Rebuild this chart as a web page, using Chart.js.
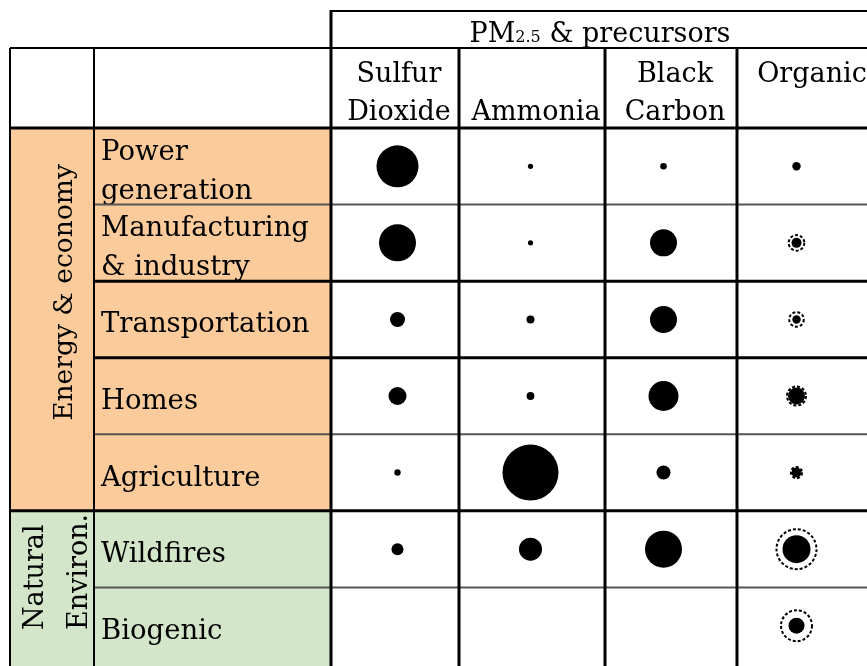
<!DOCTYPE html>
<html>
<head>
<meta charset="utf-8">
<script src="https://cdn.jsdelivr.net/npm/chart.js@4.4.1/dist/chart.umd.min.js"></script>
<style>
  body { margin: 0; background: #fff; }
  #wrap { width: 867px; height: 666px; }
</style>
</head>
<body>
<div id="wrap"><canvas id="source-chart" width="867" height="666"></canvas></div>
<script>
// columns (pollutants) and rows (emission sources)
const pollutants = ['Sulfur Dioxide', 'Ammonia', 'Black Carbon', 'Organic'];
const pollutantLines = [['Sulfur', 'Dioxide'], ['', 'Ammonia'], ['Black', 'Carbon'], ['Organic', '']];
const sources = ['Power generation', 'Manufacturing & industry', 'Transportation', 'Homes', 'Agriculture', 'Wildfires', 'Biogenic'];
const sourceLines = [['Power', 'generation'], ['Manufacturing', '& industry'], ['Transportation'], ['Homes'], ['Agriculture'], ['Wildfires'], ['Biogenic']];
const groupEnergy = ['Energy & economy'];
const groupNatural = ['Natural', 'Environ.'];

// bubble radius per source (null = empty cell)
const sulfurDioxide = [21, 18.5, 7.5, 9, 3.2, 6, null];
const ammonia = [2.6, 2.6, 4, 3.9, 28, 11.5, null];
const blackCarbon = [3.3, 13.5, 13.5, 15, 7, 18.5, null];
const organicCentral = [4.2, 5, 4.2, 8.5, 5, 14, 8];
const organicRange = [null, 7.8, 7.3, 9.5, 5.6, 20, 15.5];

// table layout
const colEdges = [331, 459, 605, 737, 879];
const leftEdge = 10, groupEdge = 94;
const topLine = 11, headLine = 48;
const orange = '#fbcb9c', green = '#d3e6c9';
const serif = '"DejaVu Serif", serif';

function toPoints(values, pollutant) {
    return sources
        .map((s, i) => values[i] == null ? null : { x: pollutant, y: s, r: values[i] })
        .filter(p => p);
}

function rowEdges(y) {
    const edges = [y.top];
    for (let i = 0; i < sources.length - 1; i++) {
        edges.push((y.getPixelForTick(i) + y.getPixelForTick(i + 1)) / 2);
    }
    edges.push(y.bottom);
    return edges;
}

function hLine(ctx, x1, x2, yy, w, color) {
    ctx.beginPath();
    ctx.strokeStyle = color;
    ctx.lineWidth = w;
    ctx.moveTo(x1, yy);
    ctx.lineTo(x2, yy);
    ctx.stroke();
}

function vLine(ctx, xx, y1, y2, w, color) {
    ctx.beginPath();
    ctx.strokeStyle = color;
    ctx.lineWidth = w;
    ctx.moveTo(xx, y1);
    ctx.lineTo(xx, y2);
    ctx.stroke();
}

const tablePlugin = {
    id: 'tableFrame',
    beforeDatasetsDraw(chart) {
        const ctx = chart.ctx;
        const y = chart.scales.y;
        const W = chart.width, H = chart.height;
        const rows = rowEdges(y);
        const splitRow = rows[5];

        ctx.save();
        // group backgrounds
        ctx.fillStyle = orange;
        ctx.fillRect(leftEdge, rows[0], colEdges[0] - leftEdge, splitRow - rows[0]);
        ctx.fillStyle = green;
        ctx.fillRect(leftEdge, splitRow, colEdges[0] - leftEdge, H - splitRow);

        // header text
        ctx.fillStyle = '#000';
        ctx.textBaseline = 'alphabetic';
        ctx.font = '27px ' + serif;
        const big1 = 'PM', small = '2.5', big2 = ' & precursors';
        const w1 = ctx.measureText(big1).width, w3 = ctx.measureText(big2).width;
        ctx.font = '16px ' + serif;
        const w2 = ctx.measureText(small).width;
        let hx = 600 - (w1 + w2 + w3) / 2;
        ctx.textAlign = 'left';
        ctx.font = '27px ' + serif;
        ctx.fillText(big1, hx, 42);
        ctx.font = '16px ' + serif;
        ctx.fillText(small, hx + w1, 42);
        ctx.font = '27px ' + serif;
        ctx.fillText(big2, hx + w1 + w2, 42);

        ctx.textAlign = 'center';
        pollutantLines.forEach((lines, i) => {
            const cx = (colEdges[i] + colEdges[i + 1]) / 2 + 4;
            ctx.fillText(lines[0], cx, 82);
            ctx.fillText(lines[1], cx, 120);
        });

        // row labels
        ctx.textAlign = 'left';
        ctx.font = '27.5px ' + serif;
        sourceLines.forEach((lines, i) => {
            const cy = y.getPixelForTick(i) + 13;
            if (lines.length === 1) {
                ctx.fillText(lines[0], 101, cy);
            } else {
                ctx.fillText(lines[0], 101, cy - 19.5);
                ctx.fillText(lines[1], 101, cy + 19.5);
            }
        });

        // vertical group labels
        ctx.save();
        ctx.font = '26.5px ' + serif;
        ctx.translate(72, (rows[0] + splitRow) / 2 - 27);
        ctx.rotate(-Math.PI / 2);
        ctx.textAlign = 'center';
        ctx.fillText(groupEnergy[0], 0, 0);
        ctx.restore();

        ctx.font = '27px ' + serif;
        [43, 87].forEach((bx, k) => {
            ctx.save();
            ctx.translate(bx, 630);
            ctx.rotate(-Math.PI / 2);
            ctx.textAlign = 'left';
            ctx.fillText(groupNatural[k], 0, 0);
            ctx.restore();
        });

        // grid lines
        const thick = 3, thin = 2, dark = '#000', grey = '#555';
        hLine(ctx, colEdges[0], W, topLine, 2, dark);
        hLine(ctx, leftEdge, W, headLine, 2, dark);
        hLine(ctx, leftEdge, W, rows[0], thick, dark);
        for (let i = 1; i < rows.length - 1; i++) {
            const isThin = (i === 1 || i === 4 || i === 6);
            const x1 = i === 5 ? leftEdge : groupEdge;
            hLine(ctx, x1, W, rows[i], isThin ? thin : thick, isThin ? grey : dark);
        }
        vLine(ctx, leftEdge, headLine, H, 2, dark);
        vLine(ctx, groupEdge, headLine, H, 2, dark);
        vLine(ctx, colEdges[0], topLine - 1, H, thick, dark);
        for (let i = 1; i < colEdges.length - 1; i++) {
            vLine(ctx, colEdges[i], headLine, H, thick, dark);
        }
        ctx.restore();
    },
    beforeDatasetDraw(chart, args) {
        if (chart.data.datasets[args.index].dashed) {
            chart.ctx.save();
            chart.ctx.setLineDash([3, 2]);
        }
    },
    afterDatasetDraw(chart, args) {
        if (chart.data.datasets[args.index].dashed) {
            chart.ctx.restore();
        }
    }
};

const filled = { backgroundColor: '#000', borderWidth: 0 };

new Chart(document.getElementById('source-chart'), {
    type: 'bubble',
    data: {
        datasets: [
            { label: 'Organic range', data: toPoints(organicRange, pollutants[3]), backgroundColor: 'rgba(0,0,0,0)', borderColor: '#000', borderWidth: 2, dashed: true },
            { label: pollutants[0], data: toPoints(sulfurDioxide, pollutants[0]), ...filled },
            { label: pollutants[1], data: toPoints(ammonia, pollutants[1]), ...filled },
            { label: pollutants[2], data: toPoints(blackCarbon, pollutants[2]), ...filled },
            { label: 'Organic', data: toPoints(organicCentral, pollutants[3]), ...filled }
        ]
    },
    options: {
        responsive: false,
        animation: false,
        layout: { autoPadding: false, padding: { left: 331, top: 128, right: 4, bottom: 2 } },
        plugins: { legend: { display: false }, tooltip: { enabled: false } },
        scales: {
            x: { type: 'category', labels: pollutants, offset: true, display: false },
            y: { type: 'category', labels: sources, offset: true, display: false }
        }
    },
    plugins: [tablePlugin]
});
</script>
</body>
</html>
